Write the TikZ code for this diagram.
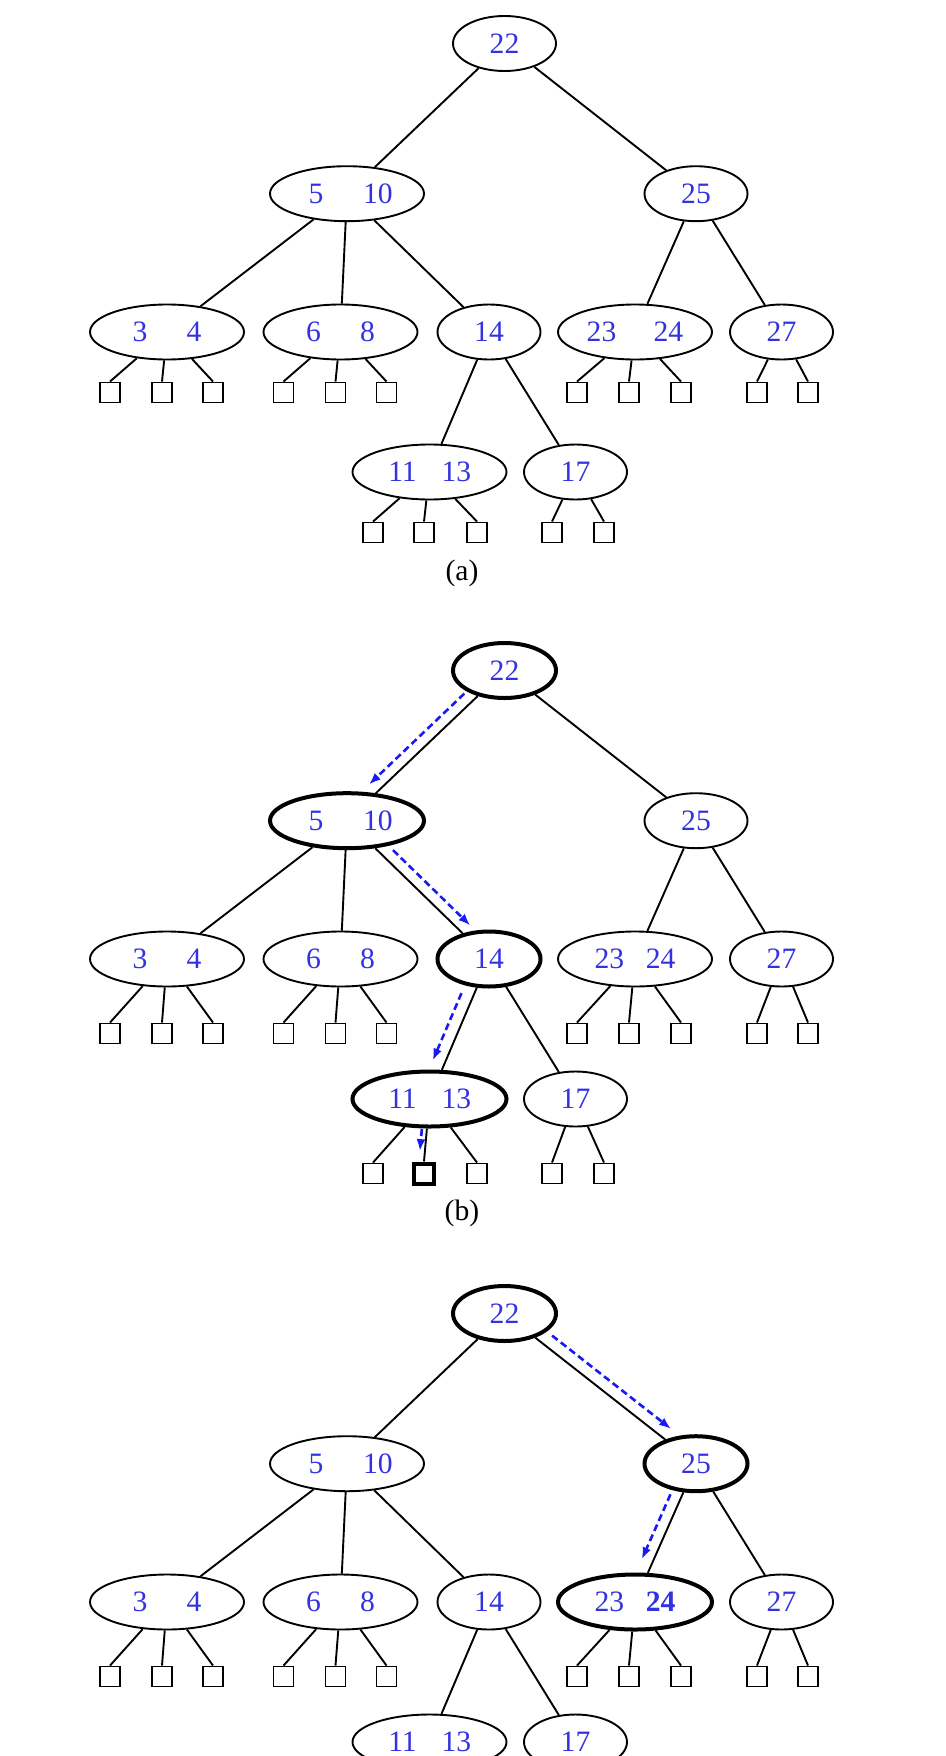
\documentclass[tikz,border=0pt]{standalone}
\usepackage{fontspec}
\setmainfont{Liberation Serif}
\usetikzlibrary{shapes.geometric,arrows.meta,calc}
\definecolor{keyblue}{RGB}{50,50,225}
\definecolor{arrblue}{RGB}{25,25,245}
\newcommand\kk[3]{\makebox[#3]{\makebox[0pt]{#1}\hfill\makebox[0pt]{#2}}}
\tikzset{
  key/.style={ellipse, draw, line width=0.95pt, inner sep=0pt, minimum height=27.5pt,
    minimum width=51.5pt, text=keyblue, font=\fontsize{14.8}{17}\selectfont},
  wide/.style={minimum width=77pt},
  hl/.style={line width=2pt},
  sq/.style={rectangle, draw, line width=0.95pt, minimum size=10pt, inner sep=0pt},
  edge/.style={line width=0.95pt},
  lab/.style={inner sep=0pt, font=\fontsize{14.8}{17}\selectfont},
  parr/.style={draw=arrblue, line width=1.3pt, dash pattern=on 3.5pt off 2pt,
    -{Latex[length=6pt,width=4.5pt]}, shorten <=4.5pt, shorten >=1.5pt},
  bx22/.style={hl}, bx510/.style={hl}, bx14/.style={hl}, bx1113/.style={hl},
  bxs1113b/.style={hl},
  cx22/.style={hl}, cx25/.style={hl}, cx2324/.style={hl},
}
% #1 prefix, #2 vertical offset, #3 drop to squares, #4 separation 23/24,
% #5 text of 24, #6 draw bottom squares (1/0)
\newcommand\tree[6]{%
  \node[key,#1x22/.try] (#1n22) at (504.5,{43.5+#2}) {22};
  \node[key,wide,#1x510/.try] (#1n510) at (347,{193.7+#2}) {\kk{5}{10}{31pt}};
  \node[key,#1x25/.try] (#1n25) at (696,{193.7+#2}) {25};
  \node[key,wide,#1x34/.try] (#1n34) at (167,{332+#2}) {\kk{3}{4}{27pt}};
  \node[key,wide,#1x68/.try] (#1n68) at (340.5,{332+#2}) {\kk{6}{8}{27pt}};
  \node[key,#1x14/.try] (#1n14) at (489,{332+#2}) {14};
  \node[key,wide,#1x2324/.try] (#1n2324) at (635,{332+#2}) {\kk{23}{#5}{#4}};
  \node[key,#1x27/.try] (#1n27) at (781.5,{332+#2}) {27};
  \node[key,wide,#1x1113/.try] (#1n1113) at (429.5,{472+#2}) {\kk{11}{13}{27pt}};
  \node[key,#1x17/.try] (#1n17) at (575.5,{472+#2}) {17};
  \draw[edge] (#1n22) -- (#1n510);
  \draw[edge] (#1n22) -- (#1n25);
  \draw[edge] (#1n510) -- (#1n34);
  \draw[edge] (#1n510) -- (#1n68);
  \draw[edge] (#1n510) -- (#1n14);
  \draw[edge] (#1n25) -- (#1n2324);
  \draw[edge] (#1n25) -- (#1n27);
  \draw[edge] (#1n14) -- (#1n1113);
  \draw[edge] (#1n14) -- (#1n17);
  \node[sq] (#1s34a) at (110,{332+#2+#3}) {};
  \node[sq] (#1s34b) at (162,{332+#2+#3}) {};
  \node[sq] (#1s34c) at (213,{332+#2+#3}) {};
  \node[sq] (#1s68a) at (283.5,{332+#2+#3}) {};
  \node[sq] (#1s68b) at (335.5,{332+#2+#3}) {};
  \node[sq] (#1s68c) at (386.5,{332+#2+#3}) {};
  \node[sq] (#1s2324a) at (577,{332+#2+#3}) {};
  \node[sq] (#1s2324b) at (629,{332+#2+#3}) {};
  \node[sq] (#1s2324c) at (681,{332+#2+#3}) {};
  \node[sq] (#1s27a) at (757,{332+#2+#3}) {};
  \node[sq] (#1s27b) at (808,{332+#2+#3}) {};
  \draw[edge] (#1n34) -- (#1s34a.north);
  \draw[edge] (#1n34) -- (#1s34b.north);
  \draw[edge] (#1n34) -- (#1s34c.north);
  \draw[edge] (#1n68) -- (#1s68a.north);
  \draw[edge] (#1n68) -- (#1s68b.north);
  \draw[edge] (#1n68) -- (#1s68c.north);
  \draw[edge] (#1n2324) -- (#1s2324a.north);
  \draw[edge] (#1n2324) -- (#1s2324b.north);
  \draw[edge] (#1n2324) -- (#1s2324c.north);
  \draw[edge] (#1n27) -- (#1s27a.north);
  \draw[edge] (#1n27) -- (#1s27b.north);
  \ifnum#6=1
    \node[sq] (#1s1113a) at (373,{472+#2+#3}) {};
    \node[sq,#1xs1113b/.try] (#1s1113b) at (424,{472+#2+#3}) {};
    \node[sq] (#1s1113c) at (477,{472+#2+#3}) {};
    \node[sq] (#1s17a) at (552,{472+#2+#3}) {};
    \node[sq] (#1s17b) at (604,{472+#2+#3}) {};
    \draw[edge] (#1n1113) -- (#1s1113a.north);
    \draw[edge] (#1n1113) -- (#1s1113b.north);
    \draw[edge] (#1n1113) -- (#1s1113c.north);
    \draw[edge] (#1n17) -- (#1s17a.north);
    \draw[edge] (#1n17) -- (#1s17b.north);
  \fi
}
% #1 from, #2 to, #3 angle at start, #4 angle at end, #5 extra style, #6 offset
\newcommand\parrow[6]{%
  \path (#1) -- (#2) coordinate[pos=0] (ps) coordinate[pos=1] (pe);
  \draw[parr,#5] ($(ps)!#6!#3:(pe)$) -- ($(pe)!#6!#4:(ps)$);
}
\begin{document}
\begin{tikzpicture}[x=0.5pt,y=-0.5pt]
  \clip (0,0) rectangle (946,1756);
  \fill[white] (0,0) rectangle (946,1756);
  \tree{a}{0}{60.5}{33.5pt}{24}{1}
  \tree{b}{627}{74.5}{25.6pt}{24}{1}
  \tree{c}{1270}{74.5}{25.6pt}{\textbf{24}}{0}
  \node[lab] (laba) at (462,573) {(a)};
  \node[lab] (labb) at (462,1213) {(b)};
  \parrow{bn22}{bn510}{-90}{90}{shorten <=4pt, shorten >=0.5pt}{5.5pt}
  \parrow{bn510}{bn14}{90}{-90}{shorten <=7pt, shorten >=0pt}{5.5pt}
  \parrow{bn14}{bn1113}{-90}{90}{shorten <=5.5pt, shorten >=2.5pt}{6pt}
  \parrow{bn1113}{bs1113b.north}{-90}{90}{shorten <=0.5pt, shorten >=5pt}{2.5pt}
  \parrow{cn22}{cn25}{90}{-90}{shorten <=6pt, shorten >=1pt}{6pt}
  \parrow{cn25}{cn2324}{-90}{90}{shorten <=3.5pt, shorten >=5pt}{5.5pt}
\end{tikzpicture}
\end{document}
